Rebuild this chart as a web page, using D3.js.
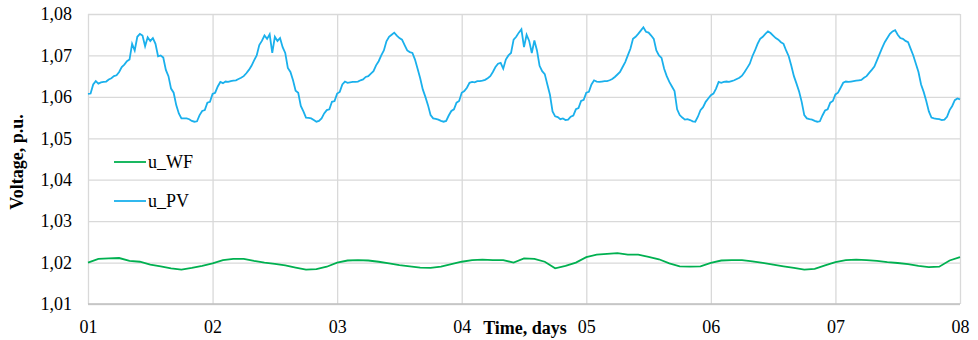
<!DOCTYPE html>
<html>
<head>
<meta charset="utf-8">
<script src="https://cdn.jsdelivr.net/npm/d3@7"></script>
<style>
    body { margin: 0; background: #fff; }
    svg text { font-family: "Liberation Serif", "Times New Roman", serif; fill: #000; }
</style>
</head>
<body>
<div id="chart"></div>
<script>
// tick labels
var dayLabels = ["01", "02", "03", "04", "05", "06", "07", "08"];
var yTicks = [1.01, 1.02, 1.03, 1.04, 1.05, 1.06, 1.07, 1.08];
var seriesNames = ["u_WF", "u_PV"];

// u_PV, every half hour (48 values per day)
var pvDay1 = [1.0607, 1.0608, 1.0630, 1.0638, 1.0632, 1.0635, 1.0636, 1.0637, 1.0642, 1.0645, 1.0650, 1.0652,
    1.0660, 1.0672, 1.0678, 1.0686, 1.0690, 1.0728, 1.0712, 1.0745, 1.0752, 1.0748, 1.0722, 1.0744,
    1.0735, 1.0742, 1.0728, 1.0698, 1.0700, 1.0695, 1.0665, 1.0650, 1.0620, 1.0610, 1.0580, 1.0560,
    1.0548, 1.0548, 1.0548, 1.0546, 1.0542, 1.0540, 1.0541, 1.0556, 1.0566, 1.0568, 1.0586, 1.0588];
var pvDay2 = [1.0607, 1.0610, 1.0625, 1.0636, 1.0633, 1.0637, 1.0636, 1.0638, 1.0639, 1.0640, 1.0643, 1.0646,
    1.0650, 1.0657, 1.0665, 1.0675, 1.0688, 1.0700, 1.0725, 1.0735, 1.0748, 1.0740, 1.0751, 1.0706,
    1.0745, 1.0735, 1.0742, 1.0720, 1.0706, 1.0670, 1.0660, 1.0640, 1.0615, 1.0610, 1.0578, 1.0565,
    1.0550, 1.0549, 1.0548, 1.0544, 1.0540, 1.0542, 1.0548, 1.0560, 1.0568, 1.0570, 1.0588, 1.0590];
var pvDay3 = [1.0608, 1.0612, 1.0630, 1.0637, 1.0634, 1.0635, 1.0636, 1.0636, 1.0637, 1.0640, 1.0642, 1.0648,
    1.0650, 1.0656, 1.0662, 1.0676, 1.0686, 1.0700, 1.0712, 1.0734, 1.0745, 1.0750, 1.0755, 1.0748,
    1.0742, 1.0738, 1.0725, 1.0712, 1.0708, 1.0706, 1.0690, 1.0668, 1.0645, 1.0618, 1.0600, 1.0580,
    1.0556, 1.0548, 1.0547, 1.0545, 1.0542, 1.0540, 1.0542, 1.0555, 1.0566, 1.0570, 1.0586, 1.0590];
var pvDay4 = [1.0610, 1.0614, 1.0622, 1.0634, 1.0636, 1.0635, 1.0638, 1.0638, 1.0639, 1.0641, 1.0645, 1.0650,
    1.0660, 1.0672, 1.0680, 1.0682, 1.0668, 1.0690, 1.0700, 1.0706, 1.0738, 1.0745, 1.0755, 1.0763,
    1.0720, 1.0750, 1.0735, 1.0706, 1.0736, 1.0712, 1.0675, 1.0662, 1.0655, 1.0630, 1.0605, 1.0565,
    1.0553, 1.0551, 1.0546, 1.0548, 1.0544, 1.0545, 1.0552, 1.0555, 1.0570, 1.0573, 1.0590, 1.0593];
var pvDay5 = [1.0610, 1.0612, 1.0630, 1.0640, 1.0637, 1.0636, 1.0637, 1.0638, 1.0638, 1.0640, 1.0643, 1.0648,
    1.0654, 1.0660, 1.0672, 1.0684, 1.0700, 1.0716, 1.0740, 1.0745, 1.0752, 1.0760, 1.0768, 1.0757,
    1.0755, 1.0748, 1.0740, 1.0712, 1.0700, 1.0694, 1.0668, 1.0650, 1.0636, 1.0625, 1.0614, 1.0570,
    1.0556, 1.0550, 1.0545, 1.0546, 1.0544, 1.0541, 1.0540, 1.0552, 1.0568, 1.0575, 1.0588, 1.0596];
var pvDay6 = [1.0604, 1.0608, 1.0620, 1.0636, 1.0634, 1.0636, 1.0637, 1.0636, 1.0638, 1.0640, 1.0643, 1.0646,
    1.0651, 1.0660, 1.0670, 1.0680, 1.0698, 1.0712, 1.0728, 1.0740, 1.0745, 1.0752, 1.0758, 1.0754,
    1.0748, 1.0742, 1.0738, 1.0732, 1.0728, 1.0712, 1.0698, 1.0675, 1.0650, 1.0632, 1.0613, 1.0588,
    1.0556, 1.0548, 1.0546, 1.0545, 1.0542, 1.0540, 1.0541, 1.0555, 1.0567, 1.0570, 1.0586, 1.0590];
var pvDay7 = [1.0606, 1.0610, 1.0622, 1.0634, 1.0637, 1.0636, 1.0637, 1.0638, 1.0639, 1.0640, 1.0641, 1.0646,
    1.0650, 1.0658, 1.0665, 1.0673, 1.0688, 1.0703, 1.0718, 1.0732, 1.0742, 1.0752, 1.0758, 1.0761,
    1.0750, 1.0742, 1.0740, 1.0735, 1.0732, 1.0716, 1.0700, 1.0680, 1.0660, 1.0630, 1.0612, 1.0590,
    1.0565, 1.0550, 1.0548, 1.0547, 1.0546, 1.0544, 1.0545, 1.0552, 1.0568, 1.0578, 1.0592, 1.0596];
var pvLast = [1.0594];

// u_WF, every two hours (12 values per day)
var wfDay1 = [1.0200, 1.0209, 1.0210, 1.0211, 1.0204, 1.0202, 1.0195, 1.0191, 1.0186, 1.0183, 1.0187, 1.0192];
var wfDay2 = [1.0198, 1.0206, 1.0209, 1.0209, 1.0204, 1.0200, 1.0197, 1.0193, 1.0188, 1.0183, 1.0184, 1.0190];
var wfDay3 = [1.0200, 1.0205, 1.0206, 1.0205, 1.0202, 1.0198, 1.0194, 1.0191, 1.0188, 1.0187, 1.0190, 1.0196];
var wfDay4 = [1.0202, 1.0206, 1.0207, 1.0206, 1.0206, 1.0200, 1.0210, 1.0209, 1.0202, 1.0186, 1.0192, 1.0200];
var wfDay5 = [1.0213, 1.0219, 1.0221, 1.0223, 1.0219, 1.0219, 1.0214, 1.0208, 1.0198, 1.0191, 1.0190, 1.0191];
var wfDay6 = [1.0199, 1.0205, 1.0206, 1.0206, 1.0203, 1.0199, 1.0195, 1.0191, 1.0187, 1.0183, 1.0185, 1.0193];
var wfDay7 = [1.0201, 1.0206, 1.0207, 1.0206, 1.0204, 1.0201, 1.0199, 1.0196, 1.0192, 1.0189, 1.0190, 1.0205];
var wfLast = [1.0213];

var pvValues = [].concat(pvDay1, pvDay2, pvDay3, pvDay4, pvDay5, pvDay6, pvDay7, pvLast);
var wfValues = [].concat(wfDay1, wfDay2, wfDay3, wfDay4, wfDay5, wfDay6, wfDay7, wfLast);

var chartWidth = 978, chartHeight = 340;
var plotLeft = 88, plotRight = 960, plotTop = 14, plotBottom = 304;
var fontSize = "18px";

var svg = d3.select("#chart").append("svg")
    .attr("width", chartWidth)
    .attr("height", chartHeight);

var x = d3.scaleLinear().domain([0, 7]).range([plotLeft, plotRight]);
var y = d3.scaleLinear().domain([1.01, 1.08]).range([plotBottom, plotTop]);

var commaFormat = function (d) { return d3.format(".2f")(d).replace(".", ","); };

// horizontal grid + y labels
var yAxis = svg.append("g")
    .attr("transform", "translate(" + plotLeft + ",0)")
    .call(d3.axisLeft(y).tickValues(yTicks).tickSize(-(plotRight - plotLeft)).tickPadding(16).tickFormat(commaFormat));
yAxis.select(".domain").remove();
yAxis.selectAll("line").attr("stroke", "#d9d9d9").attr("stroke-width", 1.3);
yAxis.selectAll("text").style("font-size", fontSize).attr("fill", "#000");

// vertical grid + x labels
var xAxis = svg.append("g")
    .attr("transform", "translate(0," + plotBottom + ")")
    .call(d3.axisBottom(x).tickValues(d3.range(dayLabels.length)).tickSize(-(plotBottom - plotTop)).tickPadding(16)
        .tickFormat(function (d, i) { return dayLabels[i]; }));
xAxis.select(".domain").remove();
xAxis.selectAll("line").attr("stroke", "#d9d9d9").attr("stroke-width", 1.3);
xAxis.selectAll("text").style("font-size", fontSize).attr("fill", "#000");

// bottom axis line
svg.append("line")
    .attr("x1", plotLeft).attr("x2", plotRight)
    .attr("y1", plotBottom).attr("y2", plotBottom)
    .attr("stroke", "#bfbfbf").attr("stroke-width", 1.3);

var line = d3.line()
    .x(function (d) { return x(d.t); })
    .y(function (d) { return y(d.v); });

var wfData = wfValues.map(function (v, i) { return { t: i / 12, v: v }; });
var pvData = pvValues.map(function (v, i) { return { t: i / 48, v: v }; });

svg.append("path")
    .datum(wfData)
    .attr("fill", "none")
    .attr("stroke", "#00b050")
    .attr("stroke-width", 1.8)
    .attr("d", line);

svg.append("path")
    .datum(pvData)
    .attr("fill", "none")
    .attr("stroke", "#1ab0ec")
    .attr("stroke-width", 1.8)
    .attr("d", line);

// legend
var legendColors = ["#00b050", "#1ab0ec"];
var legend = svg.append("g");
seriesNames.forEach(function (name, i) {
    var ly = 162 + i * 39;
    legend.append("line")
        .attr("x1", 114).attr("x2", 146)
        .attr("y1", ly).attr("y2", ly)
        .attr("stroke", legendColors[i]).attr("stroke-width", 1.8);
    legend.append("text")
        .attr("x", 148).attr("y", ly)
        .attr("dy", "0.32em")
        .style("font-size", fontSize)
        .text(name);
});

// axis titles
svg.append("text")
    .attr("x", 525).attr("y", 334)
    .attr("text-anchor", "middle")
    .style("font-size", fontSize)
    .style("font-weight", "bold")
    .text("Time, days");

svg.append("text")
    .attr("transform", "translate(23,162) rotate(-90)")
    .attr("text-anchor", "middle")
    .style("font-size", fontSize)
    .style("font-weight", "bold")
    .text("Voltage, p.u.");
</script>
</body>
</html>
